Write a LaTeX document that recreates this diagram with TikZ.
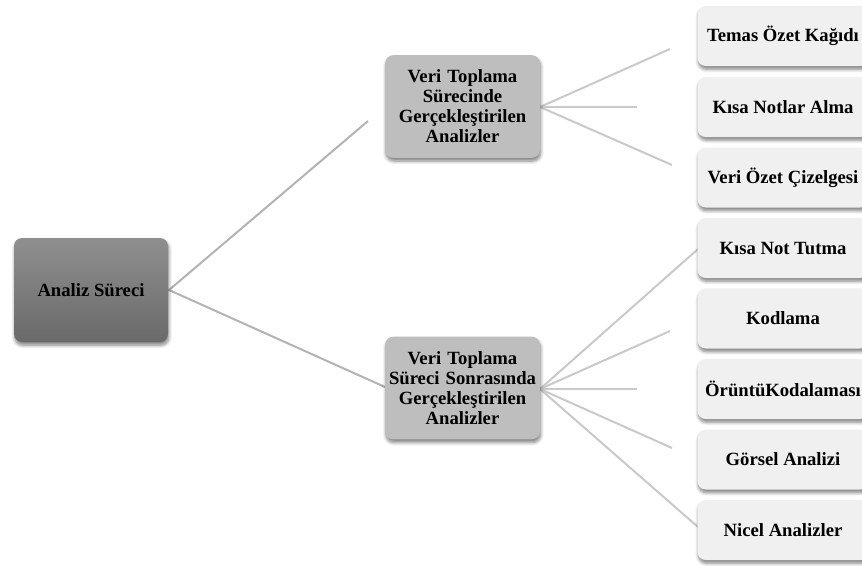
\documentclass[tikz,border=0pt]{standalone}
\usepackage{fontspec}
\setmainfont{Liberation Serif}
\usetikzlibrary{shadows.blur}

\definecolor{rootTop}{HTML}{8F8F8F}
\definecolor{rootBot}{HTML}{6A6A6A}
\definecolor{midFill}{HTML}{BEBEBE}
\definecolor{leafFill}{HTML}{F0F0F0}
\definecolor{linkMain}{HTML}{B3B3B3}
\definecolor{linkLeaf}{HTML}{C9C9C9}

\tikzset{
  box/.style={rounded corners=6pt, align=center, inner sep=2pt,
    font=\fontsize{14}{15}\selectfont\bfseries,
    blur shadow={shadow xshift=0.6pt, shadow yshift=-2.4pt,
      shadow blur steps=6, shadow blur radius=2.5pt, shadow opacity=50}},
  rootbox/.style={box, top color=rootTop, bottom color=rootBot,
    minimum width=115.5pt, minimum height=78pt},
  midbox/.style={box, fill=midFill, minimum width=116pt, minimum height=77pt,
    text width=112pt},
  leafbox/.style={box, fill=leafFill, minimum width=128pt, minimum height=45pt},
  mainlink/.style={draw=linkMain, line width=1.5pt},
  leaflink/.style={draw=linkLeaf, line width=1.5pt},
}

\begin{document}
\begin{tikzpicture}[x=0.75pt, y=-0.75pt]
\path[use as bounding box] (0,0) rectangle (862,565);
\clip (0,0) rectangle (862,565);

% open ends of the connectors
\coordinate (e1) at (368,121);
\coordinate (e2) at (385,387);
\coordinate (a1) at (670,49);
\coordinate (a2) at (637,107);
\coordinate (a3) at (672,165);
\coordinate (b1) at (698,249);
\coordinate (b2) at (670,331);
\coordinate (b3) at (637,389);
\coordinate (b4) at (672,448);
\coordinate (b5) at (698,527);

% connectors (drawn first, under the boxes)
\coordinate (rootE) at (169,290);
\coordinate (m1E) at (540,107);
\coordinate (m2E) at (540,389);
\draw[mainlink] (e1) -- (rootE) -- (e2);
\foreach \t in {a1,a2,a3} \draw[leaflink] (m1E) -- (\t);
\foreach \t in {b1,b2,b3,b4,b5} \draw[leaflink] (m2E) -- (\t);

% level 0
\node[rootbox] (root) at (91,290) {Analiz Süreci};

% level 1
\node[midbox] (m1) at (462.5,106.5)
  {Veri Toplama\\Sürecinde\\Gerçekleştirilen\\Analizler};
\node[midbox] (m2) at (462.5,388)
  {Veri Toplama\\Süreci Sonrasında\\Gerçekleştirilen\\Analizler};

% level 2
\node[leafbox] (l1) at (783,36)    {Temas Özet Kağıdı};
\node[leafbox] (l2) at (783,107)   {Kısa Notlar Alma};
\node[leafbox] (l3) at (783,177.5) {Veri Özet Çizelgesi};
\node[leafbox] (l4) at (783,248)   {Kısa Not Tutma};
\node[leafbox] (l5) at (783,318.5) {Kodlama};
\node[leafbox] (l6) at (783,389)   {ÖrüntüKodalaması};
\node[leafbox] (l7) at (783,459.5) {Görsel Analizi};
\node[leafbox] (l8) at (783,530)   {Nicel Analizler};
\end{tikzpicture}
\end{document}
